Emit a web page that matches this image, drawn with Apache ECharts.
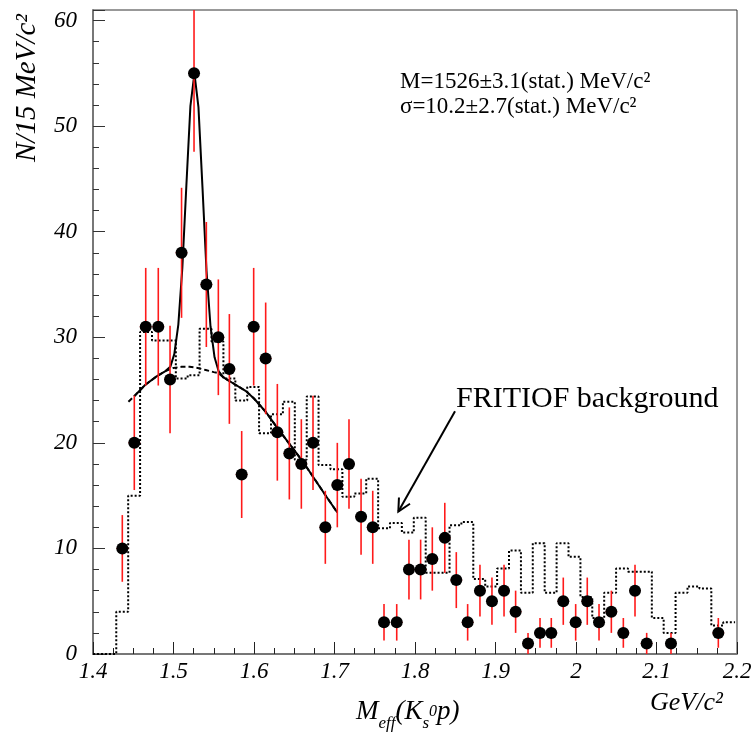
<!DOCTYPE html>
<html><head><meta charset="utf-8">
<script src="https://cdn.jsdelivr.net/npm/echarts@6/dist/echarts.min.js"></script>
<style>html,body{margin:0;padding:0;background:#fff}#c{width:755px;height:738px}</style>
</head><body><div id="c"></div>
<script>
// ---- data ----
const pointX = [1.4364,1.4513,1.4655,1.4811,1.4957,1.5100,1.5255,1.5408,1.5557,1.5694,1.5847,1.5996,1.6145,1.6290,1.6439,1.6588,1.6733,1.6886,1.7035,1.7180,1.7330,1.7475,1.7615,1.7773,1.7925,1.8070,1.8215,1.8370,1.8513,1.8654,1.8807,1.8956,1.9106,1.9250,1.9404,1.9553,1.9693,1.9842,1.9996,2.0140,2.0286,2.0439,2.0588,2.0733,2.0878,2.1180,2.1768];
const pointN = [10,20,31,31,26,38,55,35,30,27,17,31,28,21,19,18,20,12,16,18,13,12,3,3,8,8,9,11,7,3,6,5,6,4,1,2,2,5,3,5,3,4,2,6,1,1,2];
const pointErr = [3.16,4.47,5.57,5.57,5.10,6.16,7.42,5.92,5.48,5.20,4.12,5.57,5.29,4.58,4.36,4.24,4.47,3.46,4.00,4.24,3.61,3.46,1.73,1.73,2.83,2.83,3.00,3.32,2.65,1.73,2.45,2.24,2.45,2.00,1.00,1.41,1.41,2.24,1.73,2.24,1.73,2.00,1.41,2.45,1.00,1.00,1.41];
const binHalfWidth = 0.0074;

const histEdges = [1.400,1.4142,1.4289,1.4437,1.4585,1.4733,1.4881,1.5029,1.5176,1.5324,1.5472,1.5620,1.5768,1.5916,1.6063,1.6211,1.6359,1.6507,1.6655,1.6802,1.6950,1.7098,1.7246,1.7394,1.7542,1.7689,1.7837,1.7985,1.8133,1.8281,1.8429,1.8576,1.8724,1.8872,1.9020,1.9168,1.9316,1.9463,1.9611,1.9759,1.9907,2.0055,2.0202,2.0350,2.0498,2.0646,2.0794,2.0942,2.1089,2.1237,2.1385,2.1533,2.1681,2.1829,2.1976];
const histValues = [0,0,4.0,15.0,30.5,29.7,29.7,26.1,26.4,30.8,29.6,26.1,24.0,25.3,20.9,22.7,23.9,18.4,24.4,17.9,17.5,14.9,15.2,16.6,11.9,12.4,11.5,12.9,7.7,7.7,12.2,12.5,7.1,6.4,8.1,9.8,5.8,10.5,5.8,10.5,9.2,5.4,3.4,5.8,8.1,7.8,7.8,3.4,2.0,5.8,6.4,6.2,2.7,3.0];

const fitX = [1.451,1.465,1.479,1.490,1.496,1.501,1.506,1.511,1.516,1.521,1.526,1.531,1.536,1.541,1.546,1.551,1.556,1.562,1.575,1.590,1.600,1.615,1.630,1.645,1.660,1.675,1.690,1.7035];
const fitY = [24.4,25.5,26.3,26.8,27.2,28.4,31.2,36.6,44.4,51.9,55.0,51.8,44.2,36.3,31.0,28.1,26.8,26.2,25.6,24.9,24.2,22.9,21.3,19.8,18.3,16.6,14.9,13.4];

const bgX = [1.444,1.451,1.465,1.479,1.490,1.500,1.510,1.520,1.530,1.540,1.550,1.556,1.562,1.575,1.590,1.600,1.615,1.630,1.645,1.660,1.675,1.690,1.7035];
const bgY = [23.9,24.4,25.5,26.3,26.8,27.1,27.2,27.2,27.1,26.9,26.7,26.6,26.2,25.6,24.9,24.2,22.9,21.3,19.8,18.3,16.6,14.9,13.4];

const arrowFrom = [1.8497, 23.0];
const arrowTo = [1.7793, 13.5];

const xTickLabels = ['1.4','1.5','1.6','1.7','1.8','1.9','2','2.1','2.2'];
const yTickLabels = ['0','10','20','30','40','50','60'];

const X_MIN = 1.4, X_MAX = 2.2, X_STEP = 0.1;
const Y_MIN = 0, Y_MAX = 61, Y_STEP = 10;

// ---- chart ----
const serif = '"Liberation Serif", "DejaVu Serif", serif';
const chart = echarts.init(document.getElementById('c'), null, {renderer: 'canvas'});

function labelFor(v, min, step, labels) {
  const i = Math.round((v - min) / step);
  if (i < 0 || i >= labels.length) return '';
  return Math.abs(v - (min + i * step)) < 1e-6 ? labels[i] : '';
}

const histData = histEdges.map((e, i) => [e, histValues[Math.min(i, histValues.length - 1)]]);

const option = {
  backgroundColor: '#fff',
  animation: false,
  grid: {left: 93, right: 18, top: 10, bottom: 84, show: true, borderColor: '#333', borderWidth: 1, backgroundColor: 'transparent'},
  xAxis: {
    type: 'value', min: X_MIN, max: X_MAX, interval: X_STEP,
    axisLine: {show: true, onZero: false, lineStyle: {color: '#777', width: 2}},
    axisTick: {show: true, inside: true, length: 12, lineStyle: {color: '#222', width: 1}},
    minorTick: {show: true, splitNumber: 4, length: 6, lineStyle: {color: '#222', width: 1}},
    splitLine: {show: false},
    axisLabel: {margin: 6, color: '#000', fontFamily: serif, fontStyle: 'italic', fontSize: 23,
      formatter: v => labelFor(v, X_MIN, X_STEP, xTickLabels), showMinLabel: true, showMaxLabel: true}
  },
  yAxis: {
    type: 'value', min: Y_MIN, max: Y_MAX, interval: Y_STEP,
    axisLine: {show: true, onZero: false, lineStyle: {color: '#777', width: 2}},
    axisTick: {show: true, inside: true, length: 12, lineStyle: {color: '#333', width: 1}},
    minorTick: {show: true, splitNumber: 5, length: 6, lineStyle: {color: '#333', width: 1}},
    splitLine: {show: false},
    axisLabel: {margin: 16, color: '#000', fontFamily: serif, fontStyle: 'italic', fontSize: 23,
      formatter: v => labelFor(v, Y_MIN, Y_STEP, yTickLabels), showMaxLabel: false}
  },
  series: [
    {
      name: 'FRITIOF', type: 'line', step: 'end', data: histData, symbol: 'none',
      lineStyle: {color: '#000', width: 2, type: [2, 2]}, z: 2, clip: true
    },
    {
      name: 'bg', type: 'line', data: bgX.map((x, i) => [x, bgY[i]]), symbol: 'none', smooth: false,
      lineStyle: {color: '#000', width: 2, type: [5, 3]}, z: 3
    },
    {
      name: 'fit', type: 'line', data: fitX.map((x, i) => [x, fitY[i]]), symbol: 'none', smooth: false,
      lineStyle: {color: '#000', width: 2}, z: 4
    },
    {
      name: 'err', type: 'custom', z: 5,
      data: pointX.map((x, i) => [x, pointN[i], pointErr[i]]),
      encode: {x: 0, y: 1},
      renderItem: function (params, api) {
        const x = api.value(0), y = api.value(1), e = api.value(2);
        const top = api.coord([x, Math.min(y + e, Y_MAX)]);
        const bot = api.coord([x, Math.max(y - e, Y_MIN)]);
        const l = api.coord([x - binHalfWidth, y]);
        const r = api.coord([x + binHalfWidth, y]);
        return {type: 'group', children: [
          {type: 'line', shape: {x1: top[0], y1: top[1], x2: bot[0], y2: bot[1]}, style: {stroke: '#ff1a1a', lineWidth: 1.6}},
          {type: 'line', shape: {x1: l[0], y1: l[1], x2: r[0], y2: r[1]}, style: {stroke: '#ff1a1a', lineWidth: 1}}
        ]};
      }
    },
    {
      name: 'data', type: 'scatter', data: pointX.map((x, i) => [x, pointN[i]]),
      symbol: 'circle', symbolSize: 12, itemStyle: {color: '#000', opacity: 1}, z: 6
    },
    {
      name: 'arrow', type: 'custom', z: 7, silent: true,
      data: [[arrowFrom[0], arrowFrom[1], arrowTo[0], arrowTo[1]]],
      encode: {x: [0, 2], y: [1, 3]},
      renderItem: function (params, api) {
        const a = api.coord([api.value(0), api.value(1)]);
        const b = api.coord([api.value(2), api.value(3)]);
        const ang = Math.atan2(a[1] - b[1], a[0] - b[0]);
        const len = 14, spread = 0.47;
        const h1 = [b[0] + len * Math.cos(ang - spread), b[1] + len * Math.sin(ang - spread)];
        const h2 = [b[0] + len * Math.cos(ang + spread), b[1] + len * Math.sin(ang + spread)];
        const st = {stroke: '#000', lineWidth: 2, fill: null};
        return {type: 'group', children: [
          {type: 'line', shape: {x1: a[0], y1: a[1], x2: b[0], y2: b[1]}, style: st},
          {type: 'polyline', shape: {points: [h1, b, h2]}, style: st}
        ]};
      }
    }
  ],
  graphic: [
    {type: 'text', x: 27, y: 88, rotation: Math.PI / 2, z: 10,
      style: {text: 'N/15 MeV/c²', font: 'italic 29px ' + serif, fill: '#000', align: 'center', verticalAlign: 'middle'}},
    {type: 'text', x: 400, y: 82, z: 10,
      style: {text: 'M=1526±3.1(stat.) MeV/c²', font: '23px ' + serif, fill: '#000', align: 'left', verticalAlign: 'middle'}},
    {type: 'text', x: 400, y: 107, z: 10,
      style: {text: 'σ=10.2±2.7(stat.) MeV/c²', font: '23px ' + serif, fill: '#000', align: 'left', verticalAlign: 'middle'}},
    {type: 'text', x: 456, y: 399, z: 10,
      style: {text: 'FRITIOF background', font: '30px ' + serif, fill: '#000', align: 'left', verticalAlign: 'middle'}},
    {type: 'text', x: 650, y: 703, z: 10,
      style: {text: 'GeV/c²', font: 'italic 26px ' + serif, fill: '#000', align: 'left', verticalAlign: 'middle'}},
    {type: 'text', x: 356, y: 692, z: 10,
      style: {
        text: '{m|M}{sub|eff}{m|(K}{sub|s}{sup|0}{m|p)}', align: 'left', verticalAlign: 'top', fill: '#000',
        rich: {
          m: {fontFamily: serif, fontStyle: 'italic', fontSize: 27, lineHeight: 40, verticalAlign: 'middle', fill: '#000'},
          sub: {fontFamily: serif, fontStyle: 'italic', fontSize: 17, lineHeight: 40, verticalAlign: 'bottom', fill: '#000'},
          sup: {fontFamily: serif, fontStyle: 'italic', fontSize: 16, lineHeight: 40, verticalAlign: 'middle', fill: '#000'}
        }
      }}
  ]
};
chart.setOption(option);
</script>
</body></html>
